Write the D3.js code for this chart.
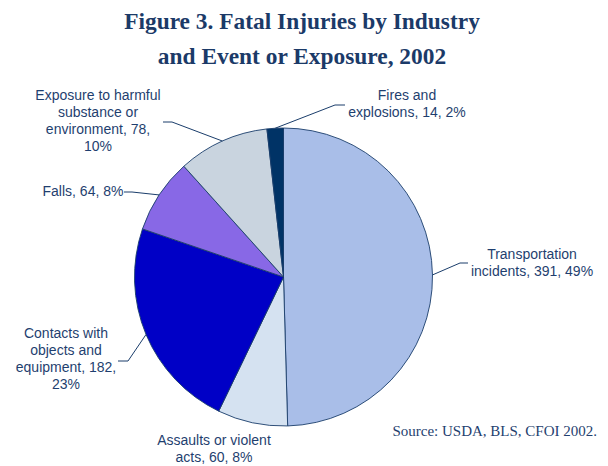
<!DOCTYPE html>
<html>
<head>
<meta charset="utf-8">
<script src="https://cdn.jsdelivr.net/npm/d3@7"></script>
<style>
  html, body { margin: 0; padding: 0; background: #fff; }
  svg { display: block; }
</style>
</head>
<body>
<div id="chart"></div>
<script>
// ---------- Data (clockwise from 12 o'clock) ----------
const categories = [
  "Transportation incidents",
  "Assaults or violent acts",
  "Contacts with objects and equipment",
  "Falls",
  "Exposure to harmful substance or environment",
  "Fires and explosions"
];
const values = [391, 60, 182, 64, 78, 14];
const percents = [49, 8, 23, 8, 10, 2];
const labelLines = [
  ["Transportation", "incidents, 391, 49%"],
  ["Assaults or violent", "acts, 60, 8%"],
  ["Contacts with", "objects and", "equipment, 182,", "23%"],
  ["Falls, 64, 8%"],
  ["Exposure to harmful", "substance or", "environment, 78,", "10%"],
  ["Fires and", "explosions, 14, 2%"]
];
const colors = ["#A9BEE8", "#D5E2F1", "#0000C6", "#8868E6", "#C9D4DF", "#003366"];

// ---------- Layout ----------
const W = 608, H = 466;
const cx = 283.5, cy = 277, R = 149;
const textColor = "#1F3F6F";

// label anchor (text centre x, first baseline y) and leader elbow
const labelLayout = [
  { x: 532, y: 259, elbow: [[460, 263], [468, 263]] },
  { x: 214, y: 445, elbow: null },
  { x: 66,  y: 338, elbow: [[128, 361], [118, 361]] },
  { x: 83,  y: 196, elbow: [[132, 192], [124, 192]] },
  { x: 98,  y: 100, elbow: [[172, 122], [163, 122]] },
  { x: 407, y: 100, elbow: [[335, 105], [345, 105]] }
];

const data = categories.map((c, i) => ({
  name: c, value: values[i], pct: percents[i], color: colors[i],
  lines: labelLines[i], layout: labelLayout[i]
}));

const svg = d3.select("#chart").append("svg")
  .attr("width", W).attr("height", H)
  .attr("viewBox", `0 0 ${W} ${H}`);

// ---------- Title ----------
const title = svg.append("text")
  .attr("text-anchor", "middle")
  .attr("fill", "#1B3A68")
  .attr("font-family", "'Liberation Serif', 'Times New Roman', serif")
  .attr("font-weight", "bold")
  .attr("font-size", 23.4);
title.append("tspan").attr("x", 302).attr("y", 29).text("Figure 3. Fatal Injuries by Industry");
title.append("tspan").attr("x", 302).attr("y", 64).text("and Event or Exposure, 2002");

// ---------- Pie ----------
const pie = d3.pie().sort(null).value(d => d.value);
const arc = d3.arc().innerRadius(0).outerRadius(R);
const arcs = pie(data);

const g = svg.append("g").attr("transform", `translate(${cx},${cy})`);

g.selectAll("path")
  .data(arcs)
  .join("path")
  .attr("d", arc)
  .attr("fill", d => d.data.color)
  .attr("stroke", "#1A3D6B")
  .attr("stroke-width", 0.9)
  .attr("stroke-linejoin", "round");

// ---------- Leader lines ----------
const edge = d => {
  const a = (d.startAngle + d.endAngle) / 2;
  return [cx + R * Math.sin(a), cy - R * Math.cos(a)];
};

svg.append("g")
  .selectAll("polyline")
  .data(arcs.filter(d => d.data.layout.elbow))
  .join("polyline")
  .attr("points", d => [edge(d), ...d.data.layout.elbow].map(p => p.join(",")).join(" "))
  .attr("fill", "none")
  .attr("stroke", "#1A3D6B")
  .attr("stroke-width", 1);

// ---------- Labels ----------
const labels = svg.append("g")
  .selectAll("text")
  .data(arcs)
  .join("text")
  .attr("text-anchor", "middle")
  .attr("fill", textColor)
  .attr("font-family", "'Liberation Sans', Arial, sans-serif")
  .attr("font-size", 14);

labels.each(function (d) {
  const t = d3.select(this);
  d.data.lines.forEach((line, i) => {
    t.append("tspan")
      .attr("x", d.data.layout.x)
      .attr("y", d.data.layout.y + i * 17)
      .text(line);
  });
});

// ---------- Source ----------
svg.append("text")
  .attr("x", 597).attr("y", 436)
  .attr("text-anchor", "end")
  .attr("fill", textColor)
  .attr("font-family", "'Liberation Serif', 'Times New Roman', serif")
  .attr("font-size", 15)
  .text("Source: USDA, BLS, CFOI 2002.");
</script>
</body>
</html>
